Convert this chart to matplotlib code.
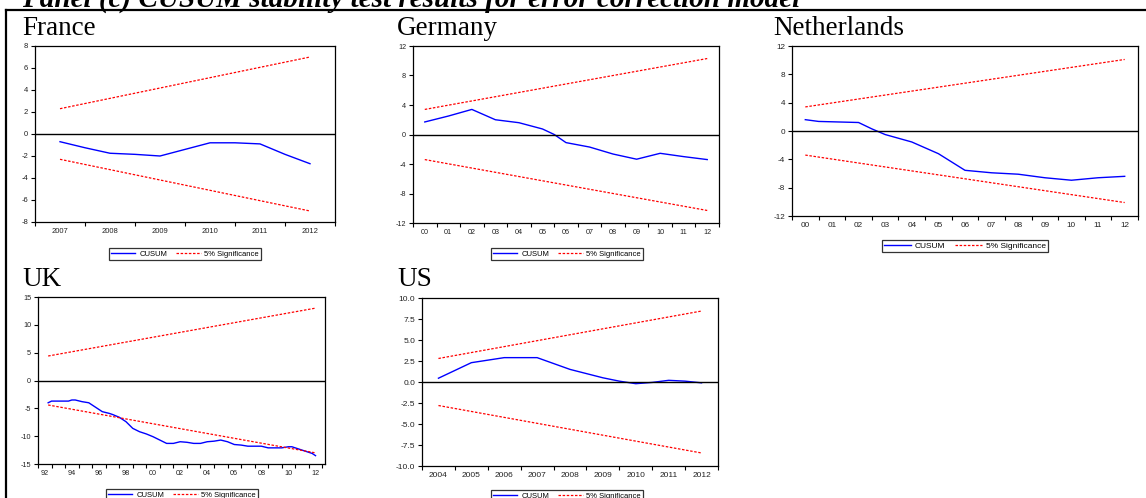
import matplotlib
matplotlib.use("Agg")
import matplotlib.pyplot as plt
from matplotlib.lines import Line2D
import numpy as np

W, H = 1146, 498

# ---- data ----
france_t = [2007, 2007.5, 2008, 2008.5, 2009, 2009.5, 2010, 2010.5, 2011, 2011.5, 2012]
france_cusum = [-0.7, -1.25, -1.75, -1.85, -2.0, -1.4, -0.8, -0.8, -0.9, -1.85, -2.7]
france_bound_t = [2007, 2012]
france_bound = [2.3, 7.0]

germany_t = [2000, 2001, 2002, 2003, 2004, 2005, 2005.5, 2006, 2007, 2008, 2009, 2010, 2011, 2012]
germany_cusum = [1.7, 2.5, 3.4, 2.0, 1.6, 0.75, 0.0, -1.1, -1.7, -2.65, -3.35, -2.55, -3.0, -3.4]
germany_bound_t = [2000, 2012]
germany_bound = [3.4, 10.3]

nl_t = [2000, 2000.5, 2001, 2002, 2002.5, 2003, 2004, 2005, 2006, 2007, 2008, 2009, 2010, 2011, 2012]
nl_cusum = [1.6, 1.35, 1.3, 1.2, 0.3, -0.5, -1.55, -3.2, -5.55, -5.9, -6.1, -6.6, -6.95, -6.6, -6.4]
nl_bound_t = [2000, 2012]
nl_bound = [3.4, 10.1]

uk_t = [1992.25, 1992.5, 1993.75, 1994.0, 1994.25, 1994.75, 1995.25, 1995.75, 1996.25, 1996.75,
        1997.0, 1997.5, 1998.0, 1998.5, 1999.0, 1999.5, 2000.0, 2000.5, 2001.0, 2001.5,
        2002.0, 2002.5, 2003.0, 2003.5, 2004.0, 2004.5, 2005.0, 2005.5, 2006.0, 2006.5,
        2007.0, 2007.5, 2008.0, 2008.5, 2009.0, 2009.5, 2010.0, 2010.25, 2010.75, 2011.25,
        2011.75, 2012.0]
uk_cusum = [-4.0, -3.7, -3.7, -3.5, -3.5, -3.8, -4.0, -4.8, -5.6, -5.9,
            -6.1, -6.6, -7.4, -8.6, -9.2, -9.6, -10.1, -10.7, -11.3, -11.3,
            -11.0, -11.1, -11.3, -11.3, -11.0, -10.9, -10.7, -11.0, -11.5, -11.6,
            -11.8, -11.8, -11.8, -12.1, -12.1, -12.1, -11.9, -11.9, -12.3, -12.7,
            -13.1, -13.5]
uk_bound_t = [1992.25, 2012.0]
uk_bound = [4.4, 13.0]

us_t = [2004, 2005, 2006, 2007, 2008, 2009, 2009.5, 2010, 2010.5, 2011, 2011.5, 2012]
us_cusum = [0.45, 2.3, 2.9, 2.9, 1.5, 0.5, 0.1, -0.2, -0.05, 0.2, 0.1, -0.1]
us_bound_t = [2004, 2012]
us_bound = [2.8, 8.45]

BLUE = "#0000ff"
RED = "#ff0000"
TICKFONT = "Liberation Sans"
SERIF = "Liberation Serif"

fig = plt.figure(figsize=(W / 100, H / 100), dpi=100)


def px_axes(l, t, r, b):
    return fig.add_axes([l / W, 1 - b / H, (r - l) / W, (b - t) / H])


def cusum_panel(box, t, cusum, bt, bound, xlim, labels, label_fmt, minor, ylim, yticks, yfmt, fs):
    ax = px_axes(*box)
    ax.plot(t, cusum, color=BLUE, lw=1.0)
    ax.plot(bt, bound, color=RED, lw=0.9, ls=(0, (2.0, 1.3)))
    ax.plot(bt, [-v for v in bound], color=RED, lw=0.9, ls=(0, (2.0, 1.3)))
    ax.axhline(0, color="black", lw=1.0)
    ax.set_xlim(*xlim)
    ax.set_ylim(*ylim)
    ax.set_xticks(labels)
    ax.set_xticklabels([label_fmt(v) for v in labels], fontsize=fs, family=TICKFONT, color="#222222")
    ax.set_xticks(minor, minor=True)
    ax.tick_params(axis="x", which="major", length=0, pad=4)
    ax.tick_params(axis="x", which="minor", length=3, width=0.8, direction="out")
    ax.set_yticks(yticks)
    ax.set_yticklabels([yfmt(v) for v in yticks], fontsize=fs, family=TICKFONT, color="#222222")
    ax.tick_params(axis="y", length=3, width=0.8, direction="out", pad=2)
    for s in ax.spines.values():
        s.set_linewidth(0.9)
    return ax


def legend_at(cx, cy, fs=5.5):
    handles = [Line2D([], [], color=BLUE, lw=1.0),
               Line2D([], [], color=RED, lw=0.9, ls=(0, (2.0, 1.3)))]
    leg = fig.legend(handles, ["CUSUM", "5% Significance"], loc="center",
                     bbox_to_anchor=(cx / W, 1 - cy / H), ncol=2,
                     prop={"family": TICKFONT, "size": fs}, frameon=True, fancybox=False,
                     handlelength=3.2, handletextpad=0.5, columnspacing=1.2,
                     borderpad=0.25, borderaxespad=0)
    leg.get_frame().set_edgecolor("black")
    leg.get_frame().set_linewidth(0.9)


yr2 = lambda v: f"{int(round(v)) % 100:02d}"
yr4 = lambda v: f"{int(round(v))}"
fint = lambda v: f"{int(v)}"

# France
cusum_panel((35, 46, 335, 222), france_t, france_cusum, france_bound_t, france_bound,
            (2006.5, 2012.5), np.arange(2007, 2013), yr4, np.arange(2006.5, 2013, 1.0),
            (-8, 8), np.arange(-8, 9, 2), fint, 5.5)
legend_at(185, 254)

# Germany
cusum_panel((413, 46, 719, 223), germany_t, germany_cusum, germany_bound_t, germany_bound,
            (1999.5, 2012.5), np.arange(2000, 2013), yr2, np.arange(1999.5, 2013, 1.0),
            (-12, 12), np.arange(-12, 13, 4), fint, 5.2)
legend_at(567, 254)

# Netherlands
cusum_panel((792, 46, 1138, 216), nl_t, nl_cusum, nl_bound_t, nl_bound,
            (1999.5, 2012.5), np.arange(2000, 2013), yr2, np.arange(1999.5, 2013, 1.0),
            (-12, 12), np.arange(-12, 13, 4), fint, 5.9)
legend_at(965, 246.5, fs=6.0)

# UK
cusum_panel((38, 297, 325, 464), uk_t, uk_cusum, uk_bound_t, uk_bound,
            (1991.6, 2012.7), np.arange(1992, 2013, 2), yr2, np.arange(1991.5, 2013, 1.0),
            (-15, 15), np.arange(-15, 16, 5), fint, 5.2)
legend_at(182, 495)

# US
cusum_panel((422, 298, 718, 466), us_t, us_cusum, us_bound_t, us_bound,
            (2003.5, 2012.5), np.arange(2004, 2013), yr4, np.arange(2003.5, 2013, 1.0),
            (-10, 10), np.arange(-10, 10.1, 2.5), lambda v: f"{v:.1f}", 6.0)
legend_at(567, 496)

# panel titles
for name, x, y in [("France", 22, 35), ("Germany", 397, 35), ("Netherlands", 773, 35),
                   ("UK", 22, 286), ("US", 397, 286)]:
    fig.text(x / W, 1 - y / H, name, family=SERIF, fontsize=19.5, va="baseline", ha="left")

# heading (cut off at the top edge, as in the source) and frame
fig.text(22 / W, 1 - 6.5 / H, "Panel (c) CUSUM stability test results for error correction model",
         family=SERIF, fontsize=21, weight="bold", style="italic", va="baseline", ha="left")
fig.add_artist(Line2D([6 / W, 1], [1 - 10 / H, 1 - 10 / H], color="black", lw=1.6,
                      transform=fig.transFigure))
fig.add_artist(Line2D([6 / W, 6 / W], [0, 1 - 10 / H], color="black", lw=1.6,
                      transform=fig.transFigure))

fig.savefig("out.png", dpi=100)
